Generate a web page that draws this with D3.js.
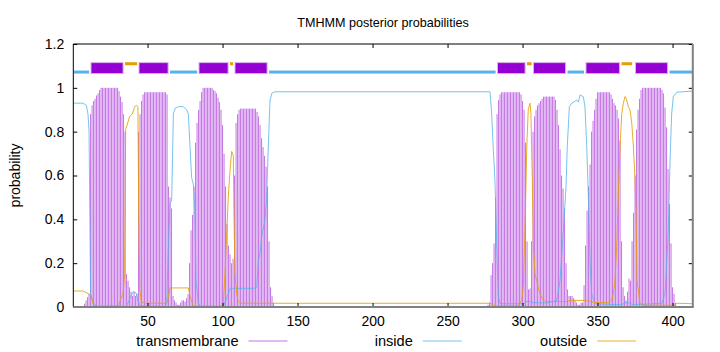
<!DOCTYPE html>
<html>
<head>
<meta charset="utf-8">
<script src="https://cdn.jsdelivr.net/npm/d3@7"></script>
<style>
  body { margin: 0; background: #fff; }
  svg { display: block; font-family: "Liberation Sans", Arial, sans-serif; }
</style>
</head>
<body>
<div class="vis-tmhmm"></div>
<script>
// residue range of the plot
const xDomain = [0.5, 413.5];
const xTicks = [50, 100, 150, 200, 250, 300, 350, 400];
const yTicks = [0, 0.2, 0.4, 0.6, 0.8, 1, 1.2];

// transmembrane posterior, one value per residue (two runs, zero elsewhere)
const tmStartA = 8;
const tmValuesA = [
    0.015, 0.03, 0.045, 0.06, 0.88, 0.92, 0.94, 0.95, 0.965, 0.975, 0.99,
    1, 1, 1, 1, 1, 1, 1, 1, 1, 1, 1, 1,
    0.985, 0.96, 0.935, 0.88, 0.8, 0.15, 0.12, 0.09, 0.07, 0.05, 0.07, 0.05, 0.06,
    0.8, 0.88, 0.94, 0.97,
    0.98, 0.98, 0.98, 0.98, 0.98, 0.98, 0.98, 0.98, 0.98, 0.98, 0.98, 0.98, 0.98, 0.98, 0.98,
    0.97, 0.55, 0.5, 0.45, 0.05, 0.03, 0.02, 0.01, 0.01, 0.02, 0.03, 0.03, 0.025, 0.04,
    0.06, 0.2, 0.35, 0.42, 0.55, 0.75, 0.84, 0.9, 0.94, 0.98,
    1, 1, 1, 1, 1, 1, 1,
    0.99, 0.985, 0.975, 0.955, 0.935, 0.9, 0.83, 0.7, 0.55, 0.38, 0.28, 0.24, 0.2, 0.22,
    0.6, 0.84, 0.88, 0.9,
    0.905, 0.905, 0.905, 0.905, 0.905, 0.905, 0.905, 0.905, 0.905, 0.905, 0.905,
    0.89, 0.87, 0.83, 0.77, 0.73, 0.69, 0.64, 0.55, 0.3, 0.09, 0.05, 0.02
];
const tmStartB = 277;
const tmValuesB = [
    0.01, 0.02, 0.146, 0.2, 0.29, 0.5, 0.88, 0.945, 0.97,
    0.98, 0.98, 0.98, 0.98, 0.98, 0.98, 0.98, 0.98, 0.98, 0.98, 0.98, 0.98, 0.98,
    0.97, 0.94, 0.9, 0.75, 0.3, 0.08, 0.085, 0.3,
    0.8, 0.87, 0.9, 0.92, 0.93, 0.94, 0.95,
    0.96, 0.96, 0.96, 0.96, 0.96, 0.96, 0.96, 0.96,
    0.945, 0.9, 0.83, 0.72, 0.6, 0.54, 0.45, 0.2, 0.08, 0.05, 0.05, 0.05, 0.04, 0.03,
    0.02, 0.01, 0.01, 0.02, 0.02, 0.1,
    0.28, 0.44, 0.55, 0.65, 0.8, 0.85, 0.9, 0.95,
    0.98, 0.98, 0.98, 0.98, 0.98, 0.98, 0.98, 0.98, 0.98,
    0.97, 0.95, 0.93, 0.92, 0.9, 0.86, 0.76, 0.3, 0.09, 0.05, 0.03, 0.07, 0.13, 0.12,
    0.3, 0.43, 0.6, 0.81, 0.9, 0.95, 0.99,
    1, 1, 1, 1, 1, 1, 1, 1, 1, 1, 1, 1, 1,
    0.99, 0.975, 0.91, 0.82, 0.63, 0.47, 0.29, 0.09, 0.06, 0.02
];

// inside / outside posterior, [residue, probability]
const insidePts = [
    [1, 0.93], [7, 0.93], [9.2, 0.92], [10.3, 0.88], [11, 0.8], [12, 0.06], [13, 0.04], [14, 0.02],
    [15, 0.01], [16, 0.003], [36, 0.003], [37, 0.02], [39, 0.05], [40.5, 0.07], [42.3, 0.065],
    [43.6, 0.03], [45, 0.005], [62, 0.003], [62.8, 0.02], [63.8, 0.26], [65, 0.47], [66.1, 0.49],
    [67.2, 0.88], [68.3, 0.906], [70.5, 0.914], [73.8, 0.914], [76.1, 0.9], [77.2, 0.88],
    [78.3, 0.73], [79.4, 0.59], [80.5, 0.56], [81.6, 0.44], [82.3, 0.12], [83.8, 0.02], [85, 0.003],
    [100.5, 0.003], [101.6, 0.02], [103.8, 0.06], [105, 0.085], [120.5, 0.085], [122.8, 0.09],
    [123.8, 0.21], [125, 0.245], [126.1, 0.32], [128.3, 0.4], [129.4, 0.5], [130.5, 0.73],
    [131.6, 0.94], [132.8, 0.975], [135, 0.982], [278.3, 0.982], [279.4, 0.885], [280.5, 0.72],
    [281.6, 0.58], [282.8, 0.28], [283.8, 0.05], [285, 0.015], [300.5, 0.015], [302.8, 0.025],
    [305, 0.025], [307.2, 0.02], [316, 0.018], [322.8, 0.03], [325, 0.12], [327.2, 0.35],
    [329, 0.55], [329.8, 0.73], [331.2, 0.914], [332.8, 0.93], [336.1, 0.944], [337.2, 0.935],
    [338.3, 0.967], [340.5, 0.96], [341.6, 0.914], [342.8, 0.73], [343.9, 0.5], [345, 0.2],
    [346.1, 0.06], [348.3, 0.015], [366.1, 0.01], [368.3, 0.02], [370.5, 0.02], [373.9, 0.01],
    [392.8, 0.017], [395, 0.06], [397.2, 0.35], [398.3, 0.66], [399.4, 0.88], [400.5, 0.96],
    [402.8, 0.98], [413, 0.985]
];
const outsidePts = [
    [1, 0.073], [7, 0.073], [10.3, 0.062], [12.5, 0.047], [13.6, 0.015], [15, 0.003], [31, 0.005],
    [31.4, 0.025], [33.6, 0.06], [34.8, 0.15], [35.4, 0.81], [36.3, 0.83], [38.1, 0.87],
    [39.8, 0.88], [41.4, 0.914], [42.5, 0.92], [43.6, 0.914], [44.1, 0.43], [44.8, 0.08],
    [45.8, 0.025], [48.1, 0.017], [63, 0.017], [65, 0.087], [77.2, 0.087], [78.3, 0.05],
    [80.5, 0.003], [100, 0.003], [100.5, 0.017], [101.6, 0.15], [102.8, 0.34], [103.8, 0.5],
    [105, 0.625], [106.1, 0.71], [107.2, 0.69], [107.6, 0.43], [108.3, 0.15], [109.4, 0.06],
    [110.5, 0.025], [111.6, 0.017], [278.3, 0.017], [280.5, 0.01], [282.3, 0.005], [297, 0.005],
    [298.3, 0.017], [299.4, 0.03], [300.5, 0.09], [301.6, 0.35], [302.8, 0.73], [303.8, 0.9],
    [305, 0.93], [305.6, 0.88], [306.5, 0.58], [307.2, 0.28], [308.3, 0.15], [309.4, 0.12],
    [310.5, 0.09], [311.6, 0.06], [313.8, 0.03], [316.1, 0.025], [329.4, 0.025], [331.6, 0.03],
    [342.8, 0.03], [345, 0.025], [348.3, 0.02], [357.2, 0.02], [359.4, 0.03], [360.5, 0.06],
    [361.6, 0.12], [362.8, 0.28], [363.8, 0.5], [365, 0.73], [366.1, 0.88], [367.2, 0.93],
    [368.3, 0.96], [369.4, 0.945], [370.5, 0.914], [371.6, 0.9], [372.8, 0.84], [373.9, 0.73],
    [375, 0.58], [375.6, 0.43], [376.3, 0.12], [378.3, 0.017], [380.3, 0.008], [401.6, 0.008],
    [402.8, 0.017], [413, 0.015]
];

// predicted topology, [first residue, last residue]
const insideSegs = [[1, 11], [65, 83], [131, 282], [330, 341], [398, 413]];
const tmSegs = [[12, 34], [44, 64], [84, 104], [108, 130], [283, 302], [307, 329], [342, 365], [375, 397]];
const outsideSegs = [[35, 43], [105, 107], [303, 306], [366, 373]];
const topoLevel = { inside: 1.072, tm: 1.09, outside: 1.11 };

const legendNames = ["transmembrane", "inside", "outside"];
const colors = { tm: "#9400d3", inside: "#56b4e9", outside: "#e69f00" };

const W = 720, H = 352;
const margin = { top: 44, right: 27.2, bottom: 45, left: 73.3 };

const svg = d3.select(".vis-tmhmm")
    .append("svg")
    .attr("width", W)
    .attr("height", H);

const x = d3.scaleLinear().domain(xDomain).range([margin.left, W - margin.right]);
const y = d3.scaleLinear().domain([0, 1.2]).range([H - margin.bottom, margin.top]);

// title + y label
svg.append("text")
    .attr("x", 383).attr("y", 27)
    .attr("text-anchor", "middle")
    .style("font-size", "12.6px")
    .text("TMHMM posterior probabilities");
svg.append("text")
    .attr("transform", "translate(20," + y(0.6) + ")rotate(-90)")
    .attr("text-anchor", "middle")
    .style("font-size", "14px")
    .text("probability");

// transmembrane impulses
let impulses = [];
tmValuesA.forEach((v, i) => impulses.push([tmStartA + i, v]));
tmValuesB.forEach((v, i) => impulses.push([tmStartB + i, v]));
svg.append("g")
    .selectAll("line")
    .data(impulses)
    .enter()
    .append("line")
    .attr("x1", d => x(d[0])).attr("x2", d => x(d[0]))
    .attr("y1", y(0)).attr("y2", d => y(d[1]))
    .attr("stroke", colors.tm)
    .attr("stroke-opacity", 0.55)
    .attr("stroke-width", 1);

// inside / outside curves
const line = d3.line().x(d => x(d[0])).y(d => y(d[1]));
svg.append("path").datum(insidePts)
    .attr("d", line).attr("fill", "none")
    .attr("stroke", colors.inside).attr("stroke-opacity", 0.8).attr("stroke-width", 1);
svg.append("path").datum(outsidePts)
    .attr("d", line).attr("fill", "none")
    .attr("stroke", colors.outside).attr("stroke-opacity", 0.85).attr("stroke-width", 1);

// topology bars on top
const gap = 0.7;
svg.append("g").selectAll("rect")
    .data(insideSegs).enter().append("rect")
    .attr("x", d => x(d[0] - 0.5) + gap)
    .attr("width", d => x(d[1] + 0.5) - x(d[0] - 0.5) - 2 * gap)
    .attr("y", y(topoLevel.inside) - 1.5).attr("height", 3)
    .attr("fill", colors.inside);
svg.append("g").selectAll("rect")
    .data(outsideSegs).enter().append("rect")
    .attr("x", d => x(d[0] - 0.5) + gap)
    .attr("width", d => x(d[1] + 0.5) - x(d[0] - 0.5) - 2 * gap)
    .attr("y", y(topoLevel.outside) - 1.5).attr("height", 3)
    .attr("fill", colors.outside);
svg.append("g").selectAll("rect")
    .data(tmSegs).enter().append("rect")
    .attr("x", d => x(d[0] - 0.5) + gap + 0.5)
    .attr("width", d => x(d[1] + 0.5) - x(d[0] - 0.5) - 2 * gap - 1)
    .attr("y", y(topoLevel.tm) - 5.5).attr("height", 11)
    .attr("fill", colors.tm)
    .attr("stroke", "#dcb0ef").attr("stroke-width", 1);

// axes (ticks point inward, mirrored)
const fmt = d3.format("~g");
svg.append("g")
    .attr("class", "x axis")
    .attr("transform", "translate(0," + y(0) + ")")
    .call(d3.axisBottom(x).tickValues(xTicks).tickSizeInner(-4).tickSizeOuter(0).tickPadding(9))
    .call(g => g.select(".domain").remove());
svg.append("g")
    .attr("transform", "translate(0," + y(1.2) + ")")
    .call(d3.axisTop(x).tickValues(xTicks).tickSizeInner(-4).tickSizeOuter(0).tickFormat(""))
    .call(g => g.select(".domain").remove());
svg.append("g")
    .attr("class", "y axis")
    .attr("transform", "translate(" + x.range()[0] + ",0)")
    .call(d3.axisLeft(y).tickValues(yTicks).tickSizeInner(-4).tickSizeOuter(0).tickPadding(9).tickFormat(fmt))
    .call(g => g.select(".domain").remove());
svg.append("g")
    .attr("transform", "translate(" + x.range()[1] + ",0)")
    .call(d3.axisRight(y).tickValues(yTicks).tickSizeInner(-4).tickSizeOuter(0).tickFormat(""))
    .call(g => g.select(".domain").remove());
svg.selectAll(".tick text")
    .style("font-size", "14px")
    .style("font-family", "'Liberation Sans', Arial, sans-serif")
    .attr("fill", "#000");
svg.selectAll(".tick line").attr("stroke", "#000");

// border
const x0 = x.range()[0], x1 = x.range()[1], yb = y(0), yt = y(1.2);
svg.append("line").attr("x1", x0).attr("x2", x1).attr("y1", yt).attr("y2", yt).attr("stroke", "#000");
svg.append("line").attr("x1", x0).attr("x2", x0).attr("y1", yt).attr("y2", yb).attr("stroke", "#000");
svg.append("line").attr("x1", x0).attr("x2", x1 + 1).attr("y1", yb).attr("y2", yb)
    .attr("stroke", "#808080").attr("stroke-width", 2);
svg.append("line").attr("x1", x1).attr("x2", x1).attr("y1", yt).attr("y2", yb)
    .attr("stroke", "#808080").attr("stroke-width", 2);

// legend
const legendColors = [colors.tm, colors.inside, colors.outside];
const legend = svg.append("g").attr("transform", "translate(0," + 341 + ")");
const items = legend.selectAll(".legend_item")
    .data(legendNames)
    .enter()
    .append("g")
    .attr("class", "legend_item")
    .attr("transform", (d, i) => "translate(" + (238.5 + i * 174.3) + ",0)");
items.append("text")
    .attr("text-anchor", "end")
    .attr("y", 5)
    .style("font-size", "14.6px")
    .text(d => d);
items.append("line")
    .attr("x1", 10).attr("x2", 49)
    .attr("stroke", (d, i) => legendColors[i])
    .attr("stroke-opacity", (d, i) => i === 0 ? 0.55 : 0.8)
    .attr("stroke-width", 1);
</script>
</body>
</html>
